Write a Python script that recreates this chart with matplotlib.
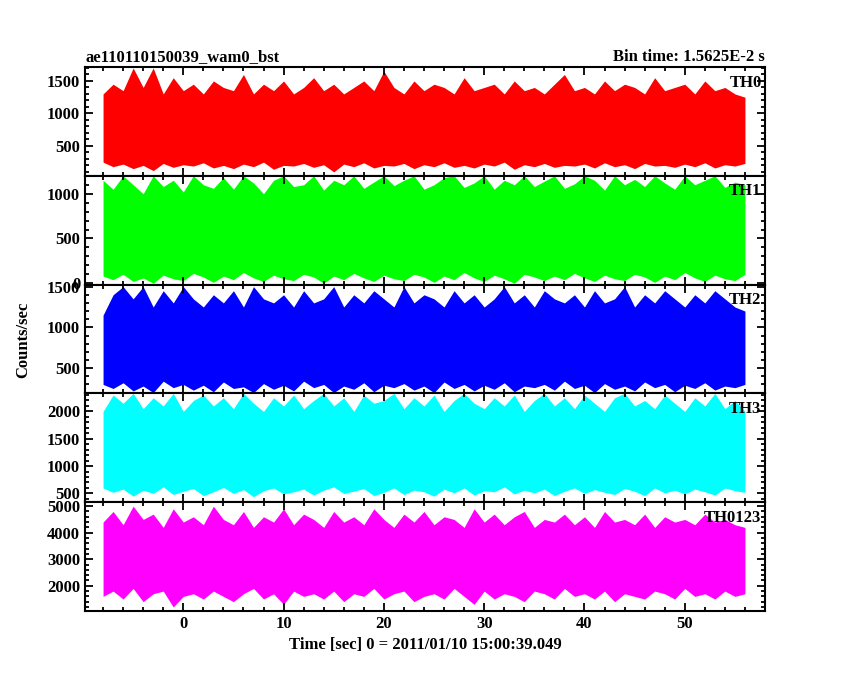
import numpy as np
import matplotlib
matplotlib.use("Agg")
import matplotlib.pyplot as plt
from matplotlib.ticker import AutoMinorLocator

plt.rcParams['font.family'] = ['Liberation Serif', 'DejaVu Serif']
plt.rcParams['font.weight'] = 'bold'

# time grid: one envelope value per second
t = np.arange(-8, 57)

# per-second upper / lower envelopes (counts/sec)
th0_hi = [1300,1450,1350,1700,1400,1700,1300,1550,1350,1450,1300,1500,1400,1350,1600,1300,1450,1350,1500,1300,1400,1550,1350,1450,1300,1400,1500,1350,1650,1400,1300,1500,1350,1450,1400,1300,1550,1350,1400,1450,1300,1500,1350,1400,1300,1450,1600,1350,1400,1300,1500,1350,1450,1400,1300,1550,1350,1400,1450,1300,1500,1350,1400,1300,1250]
th0_lo = [250,180,220,150,200,120,230,170,210,190,240,160,200,150,220,180,250,140,200,190,230,170,210,100,220,180,240,160,200,190,230,150,210,180,240,170,200,160,220,190,250,140,210,180,230,170,200,190,220,160,240,180,210,150,230,190,200,170,220,180,240,160,210,190,230]
th1_hi = [1150,1050,1200,1100,1000,1200,1080,1150,1020,1200,1100,1060,1180,1050,1200,1120,1000,1150,1200,1080,1100,1200,1040,1150,1100,1200,1060,1130,1200,1090,1150,1200,1050,1100,1180,1200,1070,1120,1200,1050,1150,1100,1200,1080,1140,1200,1060,1110,1200,1150,1040,1200,1100,1160,1080,1200,1120,1050,1200,1100,1150,1200,1070,1130,1100]
th1_lo = [80,40,100,20,60,0,90,50,30,110,70,10,80,40,120,60,20,90,50,30,100,70,0,80,40,110,60,20,90,50,30,100,70,10,80,40,120,60,20,90,50,0,100,70,30,80,40,110,60,20,90,50,30,100,70,10,80,40,120,60,20,90,50,30,100]
th2_hi = [1150,1400,1500,1350,1500,1250,1450,1300,1500,1350,1250,1400,1300,1450,1250,1500,1350,1300,1400,1250,1450,1300,1350,1500,1250,1400,1300,1450,1350,1250,1500,1300,1400,1350,1250,1450,1300,1400,1250,1350,1500,1300,1400,1250,1450,1350,1300,1400,1250,1450,1300,1350,1500,1250,1400,1300,1450,1350,1250,1400,1300,1450,1350,1250,1200]
th2_lo = [300,250,320,220,280,200,340,260,300,230,290,210,330,250,270,200,310,240,290,220,340,260,300,200,280,240,320,210,290,260,310,230,280,200,330,250,300,220,290,240,320,210,280,260,300,230,340,250,290,200,310,240,280,220,330,260,300,210,290,250,320,230,280,260,300]
th3_hi = [2000,2300,2150,2330,2050,2250,2100,2330,2000,2200,2300,2100,2250,2050,2330,2150,2000,2250,2100,2300,2050,2200,2330,2100,2250,2000,2300,2150,2200,2330,2050,2250,2100,2300,2000,2200,2330,2150,2050,2250,2100,2300,2000,2200,2330,2100,2250,2050,2300,2150,2000,2250,2330,2100,2200,2050,2300,2150,2000,2250,2100,2330,2050,2200,2000]
th3_lo = [600,520,580,450,560,500,620,480,540,590,460,530,610,500,570,440,550,600,490,530,580,470,560,620,500,540,590,460,520,600,480,560,530,450,580,510,600,470,550,530,620,490,560,510,580,460,540,600,500,570,520,480,590,540,460,600,510,560,490,580,530,470,600,550,520]
th0123_hi = [4400,4800,4300,5000,4500,4700,4200,4900,4400,4600,4300,5000,4500,4300,4800,4200,4600,4400,4900,4300,4700,4500,4200,4800,4400,4600,4300,4900,4500,4200,4700,4400,4800,4300,4600,4500,4200,4900,4400,4700,4300,4600,4800,4200,4500,4400,4700,4300,4600,4200,4800,4400,4500,4300,4700,4200,4600,4400,4500,4300,4700,4400,4500,4300,4200]
th0123_lo = [1600,1800,1500,1900,1400,1700,1800,1200,1600,1700,1500,1800,1600,1400,1700,1900,1500,1700,1300,1800,1600,1700,1500,1800,1400,1700,1600,1900,1500,1700,1800,1400,1600,1700,1500,1900,1600,1300,1800,1500,1700,1600,1400,1800,1700,1500,1900,1600,1700,1500,1800,1400,1700,1600,1500,1800,1700,1500,1900,1600,1700,1500,1800,1600,1700]

panels = [
    ("TH0", th0_lo, th0_hi, "#ff0000", (40, 1715), [500, 1000, 1500]),
    ("TH1", th1_lo, th1_hi, "#00ff00", (-15, 1200), [0, 500, 1000]),
    ("TH2", th2_lo, th2_hi, "#0000ff", (190, 1525), [500, 1000, 1500]),
    ("TH3", th3_lo, th3_hi, "#00ffff", (340, 2330), [500, 1000, 1500, 2000]),
    ("TH0123", th0123_lo, th0123_hi, "#ff00ff", (1050, 5150), [2000, 3000, 4000, 5000]),
]

fig, axes = plt.subplots(5, 1, sharex=True, figsize=(8.5, 6.8), dpi=100)
fig.subplots_adjust(left=0.1, right=0.9, top=0.9015, bottom=0.1015, hspace=0)

for ax, (name, lo, hi, col, ylim, yt) in zip(axes, panels):
    ax.fill_between(t, lo, hi, color=col, lw=0)
    ax.set_ylim(*ylim)
    ax.set_yticks(yt)
    ax.set_xlim(-9.8, 58)
    ax.yaxis.set_minor_locator(AutoMinorLocator(5))
    ax.xaxis.set_minor_locator(AutoMinorLocator(5))
    ax.tick_params(which='both', direction='in', top=True, right=True, width=1.3, labelsize=12)
    ax.tick_params(which='major', length=6)
    ax.tick_params(which='minor', length=3)
    for s in ax.spines.values():
        s.set_linewidth(1.5)
    ax.text(0.995, 0.93, name, transform=ax.transAxes, ha='right', va='top', fontsize=12, fontweight='bold')

axes[-1].set_xticks([0, 10, 20, 30, 40, 50])
axes[-1].set_xlabel("Time [sec] 0 = 2011/01/10 15:00:39.049", fontsize=12, fontweight='bold')
axes[0].set_title("ae110110150039_wam0_bst", loc='left', fontsize=12, fontweight='bold', pad=4)
axes[0].set_title("Bin time: 1.5625E-2 s", loc='right', fontsize=12, fontweight='bold', pad=4)
fig.text(0.018, 0.5, "Counts/sec", rotation=90, va='center', fontsize=12, fontweight='bold')

fig.savefig("out.png")
